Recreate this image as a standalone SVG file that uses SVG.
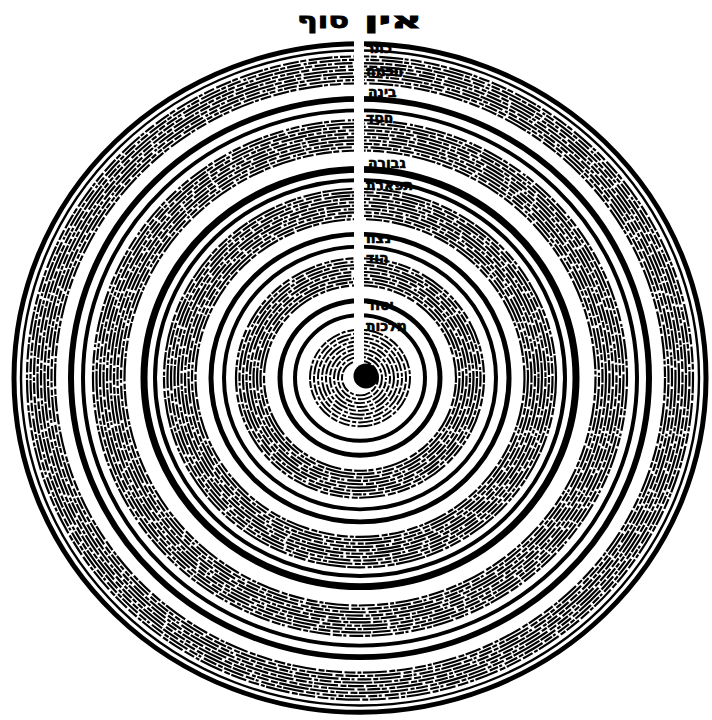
<svg xmlns="http://www.w3.org/2000/svg" width="712" height="720" viewBox="0 0 712 720">
<style>
  .c{fill:none;stroke:#000}
  .k7{stroke-width:7}.k6{stroke-width:6}.k5{stroke-width:5}.k4{stroke-width:4}.k2{stroke-width:2.4}
  .h{stroke-width:2.2}
  .d1{stroke-dasharray:16 1.5 6 2.5 24 1.5 4 2 11 2.5}
  .d2{stroke-dasharray:9 2.5 21 1.5 5 2 14 3 3 1.5}
  .d3{stroke-dasharray:30 1.5 7 2.5 12 1.5 4 2.5 18 1.5}
  .d4{stroke-dasharray:5 1.5 13 2 8 3 26 1.5 6 2.5}
  .in{stroke-width:2;stroke-dasharray:11 2 7 1.5 15 2 4 2}
  .t{font-family:"DejaVu Sans","Liberation Sans",sans-serif;font-weight:bold;fill:#000;stroke:#000;stroke-width:0.8}
  .lab{font-family:"DejaVu Sans","Liberation Sans",sans-serif;font-weight:bold;font-size:14px;fill:#000;stroke:#000;stroke-width:0.6}
</style>
<rect width="712" height="720" fill="#fff"/>
<g transform="translate(360,378) scale(1,0.966)">
  <g id="band-1">
    <circle class="c k5" r="346"/>
    <circle class="c k2" r="339"/>
    <circle class="c h d1" r="333"/><circle class="c h d2" r="329.5"/><circle class="c h d3" r="326"/>
    <circle class="c h d4" r="322.5"/><circle class="c h d1" r="319"/><circle class="c h d3" r="315.5"/>
    <circle class="c h d2" r="312"/><circle class="c h d4" r="308.5"/><circle class="c h d1" r="305"/>
  </g>
  <g id="band-2">
    <circle class="c k6" r="289"/>
    <circle class="c k4" r="277"/>
    <circle class="c h d2" r="267"/><circle class="c h d3" r="263.5"/><circle class="c h d1" r="260"/>
    <circle class="c h d4" r="256.5"/><circle class="c h d2" r="253"/><circle class="c h d1" r="249.5"/>
    <circle class="c h d3" r="246"/><circle class="c h d4" r="242.5"/><circle class="c h d2" r="239"/>
    <circle class="c h d1" r="235.5"/>
  </g>
  <g id="band-3">
    <circle class="c k7" r="216"/>
    <circle class="c k4" r="205"/>
    <circle class="c h d3" r="196"/><circle class="c h d1" r="192.5"/><circle class="c h d4" r="189"/>
    <circle class="c h d2" r="185.5"/><circle class="c h d3" r="182"/><circle class="c h d1" r="178.5"/>
    <circle class="c h d2" r="175"/><circle class="c h d4" r="171.5"/><circle class="c h d3" r="168"/>
    <circle class="c h d1" r="164.5"/>
  </g>
  <g id="band-4">
    <circle class="c k5" r="149"/>
    <circle class="c k4" r="136"/>
    <circle class="c h d4" r="124"/><circle class="c h d2" r="120.5"/><circle class="c h d1" r="117"/>
    <circle class="c h d3" r="113.5"/><circle class="c h d4" r="110"/><circle class="c h d2" r="106.5"/>
    <circle class="c h d1" r="103"/><circle class="c h d3" r="99.5"/><circle class="c h d4" r="96"/>
  </g>
  <g id="band-5">
    <circle class="c k5" r="80"/>
    <circle class="c k4" r="65"/>
    <circle class="c in" r="50"/><circle class="c in" r="46" stroke-dashoffset="7"/><circle class="c in" r="42" stroke-dashoffset="3"/>
    <circle class="c in" r="38" stroke-dashoffset="11"/><circle class="c in" r="34"/><circle class="c in" r="30" stroke-dashoffset="5"/>
    <circle class="c in" r="26" stroke-dashoffset="9"/><circle class="c in" r="22"/><circle class="c in" r="18" stroke-dashoffset="4"/>
  </g>
</g>
<rect id="line" x="354" y="20" width="10" height="346" fill="#fff"/>
<g id="center"><circle cx="366" cy="376" r="12.5" fill="#000"/></g>
<g id="title">
  <text class="t" x="323" y="28" font-size="22" text-anchor="middle" textLength="52" lengthAdjust="spacingAndGlyphs">סוף</text>
  <text class="t" x="393" y="28" font-size="22" text-anchor="middle" textLength="58" lengthAdjust="spacingAndGlyphs">אין</text>
</g>
<g id="labels">
  <text class="lab" x="366" y="53">כתר</text>
  <text class="lab" x="366" y="76">חכמה</text>
  <text class="lab" x="368" y="97">בינה</text>
  <text class="lab" x="366" y="123">חסד</text>
  <text class="lab" x="368" y="168">גבורה</text>
  <text class="lab" x="366" y="190">תפארת</text>
  <text class="lab" x="366" y="243">נצח</text>
  <text class="lab" x="366" y="263">הוד</text>
  <text class="lab" x="367" y="310">יסוד</text>
  <text class="lab" x="366" y="331">מלכות</text>
</g>
</svg>
